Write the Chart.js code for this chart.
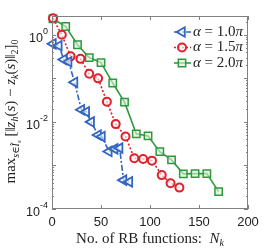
<!DOCTYPE html>
<html>
<head>
<meta charset="utf-8">
<script src="https://cdn.jsdelivr.net/npm/chart.js@4.4.0/dist/chart.umd.min.js"></script>
<style>
  html, body { margin: 0; padding: 0; background: #fff; }
</style>
</head>
<body>
<canvas id="chart" width="274" height="249"></canvas>
<script>
// values
var nAlpha10 = [1, 7, 12, 17, 23, 30, 35, 40, 47, 51, 58, 64, 69, 73, 79];
var errAlpha10 = [0.62, 0.56, 0.27, 0.24, 0.081, 0.019, 0.017, 0.010, 0.0050, 0.0046, 0.0021, 0.0024, 0.0025, 0.00046, 0.00042];
var nAlpha15 = [1, 10, 19, 29, 38, 47, 56, 65, 75, 84, 93, 102, 112, 121, 130];
var errAlpha15 = [2.4, 1.0, 0.32, 0.28, 0.127, 0.10, 0.029, 0.0089, 0.0046, 0.00146, 0.00141, 0.00129, 0.0006, 0.00039, 0.00031];
var nAlpha20 = [1, 14, 26, 38, 50, 62, 74, 86, 98, 110, 122, 134, 146, 158, 170];
var errAlpha20 = [2.33, 1.55, 0.59, 0.30, 0.23, 0.078, 0.0284, 0.0053, 0.00476, 0.00207, 0.00134, 0.00064, 0.00065, 0.00065, 0.00025];
var seriesLabels = ['1.0', '1.5', '2.0'];
var xTicks = [0, 50, 100, 150, 200];
var yTickExp = [0, -2, -4];

var BLUE = '#3366c0', RED = '#e0202a', GREEN = '#2f9a3c';
var SERIF = '"Liberation Serif", "DejaVu Serif", serif';
var SANS = '"Liberation Sans", Arial, sans-serif';

function toPoints(xs, ys) {
  return xs.map(function(x, i) { return { x: x, y: ys[i] }; });
}

// draws a list of text pieces {t, f, dy} in a row, centred on x
function drawRich(ctx, segs, x, y) {
  var total = 0;
  segs.forEach(function(s) { ctx.font = s.f; total += ctx.measureText(s.t).width; });
  var cx = x - total / 2;
  ctx.textAlign = 'left';
  ctx.textBaseline = 'alphabetic';
  segs.forEach(function(s) {
    ctx.font = s.f;
    ctx.fillText(s.t, cx, y + (s.dy || 0));
    cx += ctx.measureText(s.t).width;
  });
}

var framePlugin = {
  id: 'frame',
  afterDraw: function(chart) {
    var ctx = chart.ctx, a = chart.chartArea;
    var xs = chart.scales.x, ys = chart.scales.y;
    ctx.save();
    ctx.strokeStyle = '#808080';
    ctx.lineWidth = 1;
    ctx.strokeRect(a.left + 0.5, a.top + 0.5, a.right - a.left - 1, a.bottom - a.top - 1);

    ctx.beginPath();
    xTicks.forEach(function(v) {
      var px = Math.round(xs.getPixelForValue(v)) + 0.5;
      ctx.moveTo(px, a.bottom); ctx.lineTo(px, a.bottom - 4);
      ctx.moveTo(px, a.top); ctx.lineTo(px, a.top + 4);
    });
    for (var e = -4; e <= 0; e++) {
      for (var m = 1; m <= 9; m++) {
        var v = m * Math.pow(10, e);
        if (v > ys.max) break;
        var py = Math.round(ys.getPixelForValue(v)) + 0.5;
        var len = m === 1 ? 4 : 2;
        ctx.moveTo(a.left, py); ctx.lineTo(a.left + len, py);
        ctx.moveTo(a.right, py); ctx.lineTo(a.right - len, py);
      }
    }
    ctx.stroke();

    // tick labels
    ctx.fillStyle = '#222';
    ctx.textAlign = 'center';
    ctx.textBaseline = 'middle';
    ctx.font = '13px ' + SANS;
    xTicks.forEach(function(v) {
      ctx.fillText(String(v), xs.getPixelForValue(v), a.bottom + 13);
    });
    yTickExp.forEach(function(ex) {
      var py = ys.getPixelForValue(Math.pow(10, ex));
      var sup = ex === 0 ? '0' : '-' + Math.abs(ex);
      ctx.font = '9px ' + SANS;
      var ws = ctx.measureText(sup).width;
      ctx.font = '12.5px ' + SANS;
      var wb = ctx.measureText('10').width;
      var x0 = a.left - 4 - ws - wb;
      ctx.textAlign = 'left';
      ctx.fillText('10', x0, py + 4);
      ctx.font = '9px ' + SANS;
      ctx.fillText(sup, x0 + wb, py - 3);
    });

    // axis titles
    ctx.fillStyle = '#222';
    var f = '15px ' + SERIF, fi = 'italic 15px ' + SERIF;
    drawRich(ctx, [
      { t: 'No. of RB functions:  ', f: f },
      { t: 'N', f: fi },
      { t: 'k', f: 'italic 10px ' + SERIF, dy: 3 }
    ], (a.left + a.right) / 2, 243);

    ctx.save();
    ctx.translate(15, (a.top + a.bottom) / 2 - 1);
    ctx.rotate(-Math.PI / 2);
    drawRich(ctx, [
      { t: 'max', f: f },
      { t: 's\u2208', f: 'italic 10px ' + SERIF, dy: 4 },
      { t: '\u0128', f: 'italic 10px ' + SERIF, dy: 4 },
      { t: 's', f: 'italic 7px ' + SERIF, dy: 6 },
      { t: ' [\u2016', f: f },
      { t: 'z', f: fi },
      { t: 'h', f: 'italic 10px ' + SERIF, dy: 3 },
      { t: '(', f: f },
      { t: 's', f: fi },
      { t: ') \u2212 ', f: f },
      { t: 'z', f: fi },
      { t: 'k', f: 'italic 10px ' + SERIF, dy: 3 },
      { t: '(', f: f },
      { t: 's', f: fi },
      { t: ')\u2016', f: f },
      { t: '2', f: '10px ' + SERIF, dy: 3 },
      { t: ']', f: f },
      { t: '0', f: '10px ' + SERIF, dy: 3 }
    ], 0, 0);
    ctx.restore();

    // legend
    var rows = [32, 47.5, 63];
    var sets = chart.data.datasets;
    rows.forEach(function(ry, i) {
      var ds = sets[i];
      ctx.save();
      ctx.strokeStyle = ds.borderColor;
      ctx.fillStyle = ds.pointBackgroundColor;
      ctx.lineWidth = ds.borderWidth;
      ctx.setLineDash(ds.borderDash || []);
      ctx.beginPath();
      ctx.moveTo(174, ry); ctx.lineTo(191, ry);
      ctx.stroke();
      ctx.setLineDash([]);
      ctx.lineWidth = ds.pointBorderWidth;
      Chart.helpers.drawPoint(ctx, {
        pointStyle: ds.pointStyle, rotation: ds.pointRotation || 0,
        radius: ds.pointRadius, borderWidth: ds.pointBorderWidth
      }, 182, ry);
      ctx.restore();
      ctx.fillStyle = '#222';
      ctx.textBaseline = 'middle';
      ctx.textAlign = 'left';
      var lx = 193;
      ctx.font = fi;
      ctx.fillText('\u03b1', lx, ry);
      lx += ctx.measureText('\u03b1').width;
      ctx.font = f;
      var mid = ' = ' + seriesLabels[i];
      ctx.fillText(mid, lx, ry);
      lx += ctx.measureText(mid).width;
      ctx.font = fi;
      ctx.fillText('\u03c0', lx, ry);
    });
    ctx.restore();
  }
};

new Chart(document.getElementById('chart'), {
  type: 'line',
  data: {
    datasets: [{
      data: toPoints(nAlpha10, errAlpha10),
      borderColor: BLUE, borderWidth: 1.6, borderDash: [6, 2, 2, 2],
      pointStyle: 'triangle', pointRotation: -90, pointRadius: 5.5,
      pointBorderWidth: 1.8, pointBorderColor: BLUE, pointBackgroundColor: 'rgba(255,255,255,0.6)'
    }, {
      data: toPoints(nAlpha15, errAlpha15),
      borderColor: RED, borderWidth: 1.6, borderDash: [2, 2],
      pointStyle: 'circle', pointRadius: 4,
      pointBorderWidth: 2, pointBorderColor: RED, pointBackgroundColor: 'rgba(255,255,255,0.6)'
    }, {
      data: toPoints(nAlpha20, errAlpha20),
      borderColor: GREEN, borderWidth: 1.6,
      pointStyle: 'rect', pointRadius: 5.2,
      pointBorderWidth: 1.5, pointBorderColor: GREEN, pointBackgroundColor: 'rgba(220,242,220,0.6)'
    }]
  },
  options: {
    responsive: false,
    animation: false,
    clip: false,
    layout: { padding: { left: 52, top: 16, right: 26, bottom: 40 } },
    plugins: { legend: { display: false }, tooltip: { enabled: false } },
    elements: { line: { tension: 0 } },
    scales: {
      x: {
        type: 'linear', min: 0, max: 200,
        grid: { display: false }, border: { display: false },
        ticks: { display: false },
        afterFit: function(s) { s.height = 0; }
      },
      y: {
        type: 'logarithmic', min: 1e-4, max: 2.7,
        grid: { display: false }, border: { display: false },
        ticks: { display: false },
        afterFit: function(s) { s.width = 0; }
      }
    }
  },
  plugins: [framePlugin]
});
</script>
</body>
</html>
